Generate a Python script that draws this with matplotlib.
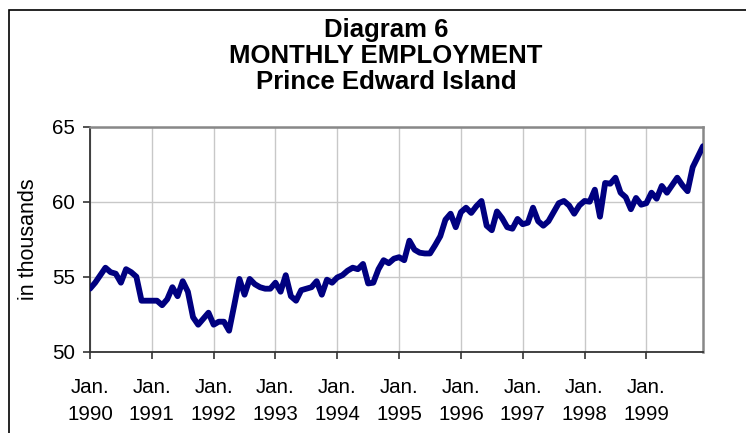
import numpy as np
import matplotlib.pyplot as plt
from matplotlib.patches import Rectangle

plt.rcParams['font.family'] = ['Liberation Sans', 'DejaVu Sans']

# monthly employment, thousands, Jan 1990 - Dec 1999
emp_1990 = [54.2, 54.6, 55.1, 55.6, 55.3, 55.2, 54.6, 55.5, 55.3, 55.0, 53.4, 53.4]
emp_1991 = [53.4, 53.4, 53.1, 53.5, 54.3, 53.7, 54.7, 54.0, 52.3, 51.8, 52.2, 52.6]
emp_1992 = [51.8, 52.0, 52.0, 51.4, 53.1, 54.85, 53.8, 54.85, 54.5, 54.3, 54.2, 54.2]
emp_1993 = [54.6, 54.0, 55.1, 53.7, 53.4, 54.1, 54.2, 54.3, 54.7, 53.8, 54.8, 54.6]
emp_1994 = [54.95, 55.1, 55.4, 55.6, 55.5, 55.85, 54.55, 54.6, 55.5, 56.1, 55.9, 56.2]
emp_1995 = [56.3, 56.1, 57.4, 56.8, 56.6, 56.55, 56.55, 57.1, 57.7, 58.8, 59.2, 58.3]
emp_1996 = [59.3, 59.6, 59.25, 59.7, 60.05, 58.4, 58.1, 59.35, 58.9, 58.3, 58.2, 58.85]
emp_1997 = [58.5, 58.6, 59.6, 58.7, 58.4, 58.7, 59.3, 59.9, 60.05, 59.75, 59.2, 59.75]
emp_1998 = [60.05, 60.0, 60.8, 59.0, 61.25, 61.2, 61.6, 60.6, 60.3, 59.5, 60.25, 59.8]
emp_1999 = [59.9, 60.6, 60.2, 61.05, 60.6, 61.1, 61.6, 61.1, 60.7, 62.3, 63.0, 63.7]

years = [1990, 1991, 1992, 1993, 1994, 1995, 1996, 1997, 1998, 1999]
employment = (emp_1990 + emp_1991 + emp_1992 + emp_1993 + emp_1994
              + emp_1995 + emp_1996 + emp_1997 + emp_1998 + emp_1999)
months = np.arange(len(employment))

fig = plt.figure(figsize=(7.46, 4.33), dpi=100)
ax = fig.add_axes([90 / 746, 1 - 351.7 / 433, 613 / 746, 225 / 433])

# outer chart frame (runs off the right and bottom edges)
fig.patches.append(Rectangle((8.5 / 746, -0.1), 1.2, 1 - 10 / 433 + 0.1,
                             transform=fig.transFigure, fill=False,
                             edgecolor='black', linewidth=1.2))

ax.plot(months, employment, color='#000080', linewidth=4.2,
        solid_joinstyle='round', solid_capstyle='round', zorder=3)

ax.set_xlim(0, 119)
ax.set_ylim(50, 65)
ax.set_yticks([50, 55, 60, 65])
ax.set_xticks(np.arange(0, 120, 12))
ax.set_xticklabels(['Jan.\n%d' % y for y in years], linespacing=1.5)
ax.tick_params(axis='both', labelsize=14.8, length=5, width=1.2, color='#333333')
ax.tick_params(axis='x', pad=14)
ax.tick_params(axis='y', pad=6)
ax.grid(True, color='#c8c8c8', linewidth=1)
ax.set_axisbelow(True)

for s in ['left', 'bottom']:
    ax.spines[s].set_color('#333333')
    ax.spines[s].set_linewidth(1.3)
for s in ['top', 'right']:
    ax.spines[s].set_color('#888888')
    ax.spines[s].set_linewidth(1.8)

ax.set_ylabel('in thousands', fontsize=15.5, labelpad=9)

title_x = 386 / 746
fig.text(title_x, 1 - 37 / 433, 'Diagram 6', ha='center', va='baseline',
         fontsize=18.5, fontweight='bold')
fig.text(title_x, 1 - 63.3 / 433, 'MONTHLY EMPLOYMENT', ha='center', va='baseline',
         fontsize=18.5, fontweight='bold')
fig.text(title_x, 1 - 89 / 433, 'Prince Edward Island', ha='center', va='baseline',
         fontsize=18.5, fontweight='bold')

fig.savefig('out.png', dpi=100)
